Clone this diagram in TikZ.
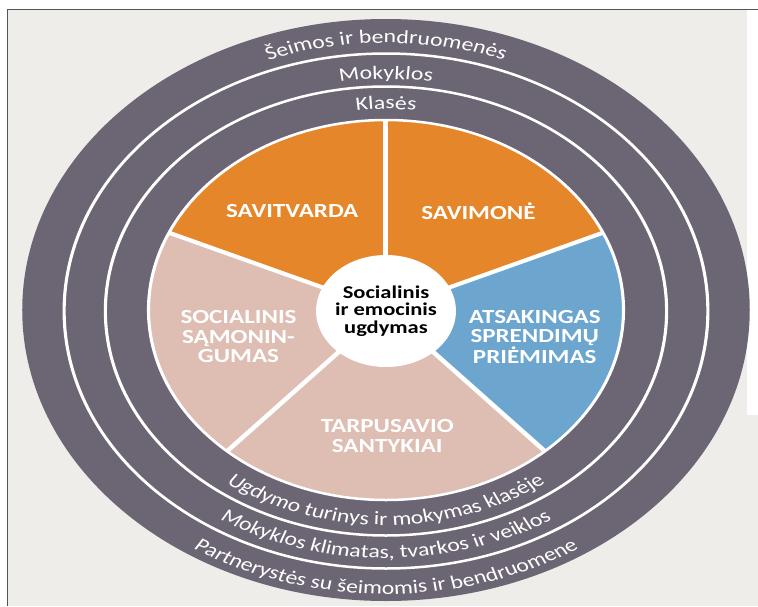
\documentclass[tikz,border=0pt]{standalone}
\usepackage{fontspec}
\setmainfont{Carlito}
\usetikzlibrary{decorations.text}
\definecolor{selRing}{HTML}{6C6574}
\definecolor{selOrange}{HTML}{E6862A}
\definecolor{selPink}{HTML}{DEBDB3}
\definecolor{selBlue}{HTML}{6CA6CF}
\definecolor{selPaper}{HTML}{EEEDE9}
\definecolor{selFrame}{HTML}{555555}
\newcommand{\ringfont}{\fontsize{19}{21}\selectfont}
\tikzset{
  ringline/.style = {white, line width=2.5pt},
  divider/.style  = {white, line width=4pt},
  seclbl/.style   = {white, font=\bfseries\fontsize{20}{19.5}\selectfont, align=center},
  hublbl/.style   = {circle, fill=white, minimum size=112pt, inner sep=0pt,
                     font=\bfseries\fontsize{18}{17.5}\selectfont, align=center},
  arctext/.style  = {decorate, decoration={text along path, text align=center,
                     text color=white, text={|\ringfont|#1}}},
}

\begin{document}
\begin{tikzpicture}[x=1pt, y=1pt]
  \useasboundingbox (-386,-296) rectangle (372,310);
  \fill[white] (-386,-296) rectangle (372,310);
  \fill[selPaper] (-378.5,-296) rectangle (372,300.5);
  \fill[white] (361,300.5) rectangle (372,-105);
  \draw[selFrame, line width=1.5pt] (-378.5,-296) -- (-378.5,300.5) -- (372,300.5);

  \begin{scope}[transform canvas={xscale=1.25}]
    % rings
    \fill[selRing] (0,0) circle[radius=291pt];
    \draw[ringline] (0,-1) circle[radius=257.5pt];
    \draw[ringline] (0,-1) circle[radius=224.5pt];

    % sectors
    \fill[selOrange] (0,0) -- (24:190) arc[start angle=24, end angle=156, radius=190pt] -- cycle;
    \fill[selPink] (0,0) -- (156:190) arc[start angle=156, end angle=312, radius=190pt] -- cycle;
    \fill[selBlue] (0,0) -- (312:190) arc[start angle=312, end angle=384, radius=190pt] -- cycle;
    \draw[ringline] (0,0) circle[radius=190pt];
    \foreach \a in {24,90,156,228,312}
      \draw[divider] (0,0) -- (\a:190);

    \node[hublbl] (hub) at (0,-1) {Socialinis\\ir emocinis\\ugdymas};

    \node[seclbl] (savitvarda) at (-75,99) {SAVITVARDA};
    \node[seclbl] (savimone) at (74,99) {SAVIMONĖ};
    \node[seclbl] (samoningumas) at (-118,-27) {SOCIALINIS\\SĄMONIN-\\GUMAS};
    \node[seclbl] (sprendimai) at (119,-27) {ATSAKINGAS\\SPRENDIMŲ\\PRIĖMIMAS};
    \node[seclbl] (santykiai) at (1,-126) {TARPUSAVIO\\SANTYKIAI};

    % texts on the rings
    \path[arctext={Šeimos ir bendruomenės}] (160:267) arc[start angle=160, end angle=20, radius=267pt];
    \path[arctext={Mokyklos}] (150:231) arc[start angle=150, end angle=30, radius=231pt];
    \path[arctext={Klasės}] (150:201) arc[start angle=150, end angle=30, radius=201pt];
    \path[arctext={Ugdymo turinys ir mokymas klasėje}] (200:215) arc[start angle=200, end angle=340, radius=215pt];
    \path[arctext={Mokyklos klimatas, tvarkos ir veiklos}] (200:248) arc[start angle=200, end angle=340, radius=248pt];
    \path[arctext={Partnerystės su šeimomis ir bendruomene}] (200:284) arc[start angle=200, end angle=340, radius=284pt];
  \end{scope}
\end{tikzpicture}
\end{document}
